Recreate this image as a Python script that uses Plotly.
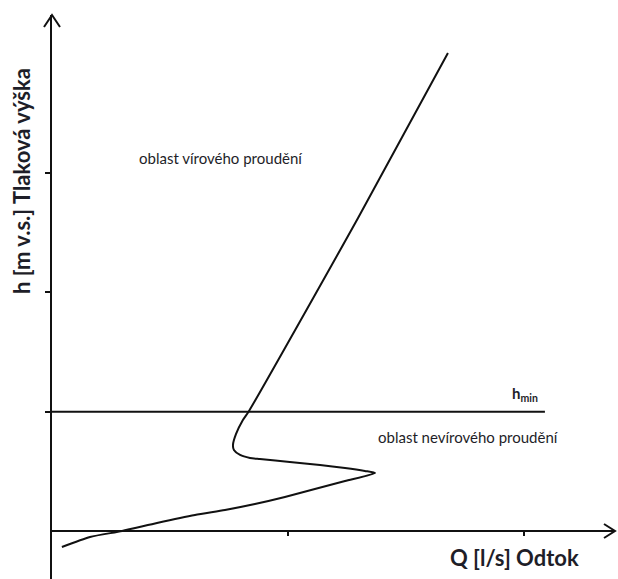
import plotly.graph_objects as go

# Curve: Q (outflow) vs h (pressure head)
Q = [1.678, 1.297, 0.835, 0.809, 0.780, 0.767, 0.771, 0.797, 0.839, 0.881, 1.008,
     1.136, 1.242, 1.326, 1.369, 1.242, 1.114, 0.987, 0.860, 0.733, 0.606, 0.445,
     0.297, 0.161, 0.042]
h = [4.006, 2.623, 1.006, 0.930, 0.813, 0.721, 0.679, 0.637, 0.612, 0.603, 0.578,
     0.553, 0.528, 0.503, 0.486, 0.419, 0.352, 0.285, 0.226, 0.176, 0.134, 0.067,
     0.0, -0.050, -0.134]

h_min = 1.0
x_ticks = [1, 2]
y_ticks = [1, 2, 3]

x_title = "<b>Q [l/s] Odtok</b>"
y_title = "<b>h [m v.s.] Tlaková výška</b>"
hmin_label = "<b>h<sub>min</sub></b>"
label_vortex = "oblast vírového proudění"
label_nonvortex = "oblast nevírového proudění"

W, H = 618, 579
FONT = "Lato, 'Open Sans', sans-serif"
TXT = "#1e1e28"
INK = "#111111"

XMAX = 2.386
YMIN, YMAX = -0.4022, 4.324
X_LEFT, X_RIGHT = 52 / W, 615 / W      # x-axis domain in paper units
Y_TOP = 1 - 15 / H                      # y-axis domain top in paper units
X0_POS = (0 - YMIN) / (YMAX - YMIN) * Y_TOP  # paper y of h = 0

fig = go.Figure()
fig.add_trace(go.Scatter(x=Q, y=h, mode="lines",
                         line=dict(color=INK, width=2, shape="spline", smoothing=0.6),
                         hoverinfo="skip", showlegend=False))

# h_min horizontal line
fig.add_shape(type="line", xref="x", yref="y", x0=0, x1=2.089, y0=h_min, y1=h_min,
              line=dict(color=INK, width=2))

# arrow heads (open chevrons) in paper units
ax_w, ax_h = 8 / W, 12 / H
fig.add_shape(type="path", xref="paper", yref="paper",
              path=f"M {X_LEFT - ax_w},{Y_TOP - ax_h} L {X_LEFT},{Y_TOP} L {X_LEFT + ax_w},{Y_TOP - ax_h}",
              line=dict(color=INK, width=2))
bx_w, bx_h = 11 / W, 7 / H
fig.add_shape(type="path", xref="paper", yref="paper",
              path=f"M {X_RIGHT - bx_w},{X0_POS + bx_h} L {X_RIGHT},{X0_POS} L {X_RIGHT - bx_w},{X0_POS - bx_h}",
              line=dict(color=INK, width=2))

fig.add_annotation(x=0.360, y=3.126, xref="x", yref="y", text=label_vortex, showarrow=False,
                   xanchor="left", yanchor="middle", font=dict(family=FONT, size=15, color=TXT))
fig.add_annotation(x=1.373, y=0.788, xref="x", yref="y", text=label_nonvortex, showarrow=False,
                   xanchor="left", yanchor="middle", font=dict(family=FONT, size=15, color=TXT))
fig.add_annotation(x=1.941, y=1.15, xref="x", yref="y", text=hmin_label, showarrow=False,
                   xanchor="left", yanchor="middle", font=dict(family=FONT, size=15, color=TXT))
fig.add_annotation(x=1.958, y=-0.218, xref="x", yref="y", text=x_title, showarrow=False,
                   xanchor="center", yanchor="middle", font=dict(family=FONT, size=22, color=TXT))
fig.add_annotation(x=21 / W, y=1 - 181 / H, xref="paper", yref="paper", text=y_title,
                   showarrow=False, textangle=-90, xanchor="center", yanchor="middle",
                   font=dict(family=FONT, size=22, color=TXT))

fig.update_layout(
    width=W, height=H, margin=dict(l=0, r=0, t=0, b=0),
    paper_bgcolor="white", plot_bgcolor="white",
    xaxis=dict(domain=[X_LEFT, X_RIGHT], range=[0, XMAX], showgrid=False, zeroline=False,
               showline=True, linecolor=INK, linewidth=2,
               ticks="outside", ticklen=4, tickwidth=1.5, tickcolor=INK,
               tickvals=x_ticks, showticklabels=False,
               anchor="free", position=X0_POS),
    yaxis=dict(domain=[0, Y_TOP], range=[YMIN, YMAX], showgrid=False, zeroline=False,
               showline=True, linecolor=INK, linewidth=2,
               ticks="outside", ticklen=5, tickwidth=1.5, tickcolor=INK,
               tickvals=y_ticks, showticklabels=False, anchor="x"),
    showlegend=False,
)

fig.write_html("out.html", config={"displayModeBar": False},
               post_script="document.body.style.margin='0';document.body.style.overflow='hidden';")
